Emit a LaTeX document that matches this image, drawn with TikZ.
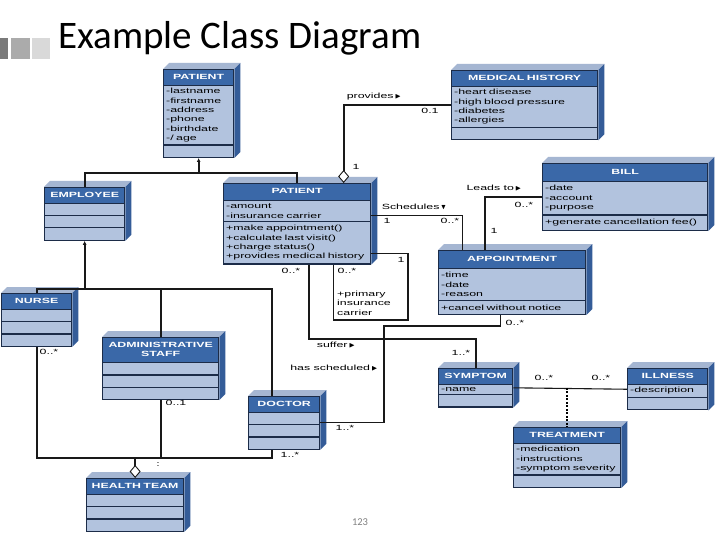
\documentclass[tikz,border=0pt]{standalone}
\usepackage{fontspec}
\usepackage{amssymb}
\usetikzlibrary{shapes.multipart,arrows.meta,backgrounds,positioning}
\newfontfamily\umlfont[FakeStretch=1.65]{Liberation Sans}
\newfontfamily\titlefont{Carlito}
\definecolor{hdrblue}{RGB}{58,104,168}
\definecolor{bodyblue}{RGB}{178,195,222}
\definecolor{edgeblue}{RGB}{28,44,72}
\definecolor{sideblue}{RGB}{52,92,152}
\definecolor{topblue}{RGB}{165,182,210}
\newcommand\classhead[1]{\centering\leavevmode\color{white}\bfseries\strut#1\strut\par}
\newcommand\nocomp{\rule{0pt}{6pt}}
\newcommand\rtri{\,{\scriptsize$\blacktriangleright$}}
\newcommand\dtri{\,{\scriptsize$\blacktriangledown$}}

\begin{document}
\begin{tikzpicture}[
  x=1pt, y=-1pt,
  classbox/.style={rectangle split, rectangle split parts=#1, draw=edgeblue,
    line width=1.3pt, rectangle split part fill={hdrblue,bodyblue},
    anchor=north west, inner xsep=2.5pt, inner ysep=2.5pt, align=left,
    font=\umlfont\fontsize{7.5}{9.3}\selectfont},
  classbox/.default=3,
  assoc/.style={draw=black!90, line width=1.7pt},
  thinassoc/.style={draw=black!90, line width=1.1pt},
  genarrow/.style={assoc, -{Latex[length=4pt,width=4pt]}},
  aggr/.style={assoc, -{Diamond[fill=white,length=13pt,width=11pt,line width=0.9pt]}},
  mult/.style={font=\umlfont\fontsize{7.5}{9.3}\selectfont, inner sep=1pt}
]
  \begin{scope}[on background layer]
    \fill[white] (0,0) rectangle (720,540);
  \end{scope}
  \useasboundingbox (0,0) rectangle (720,540);

  % title and slide marks
  \fill[black!52] (0,38) rectangle (8,59);
  \fill[black!33] (11,38) rectangle (30,59);
  \fill[black!15] (32,38) rectangle (50,59);
  \node[anchor=base west, inner sep=0pt, font=\titlefont\fontsize{39}{44}\selectfont]
    (title) at (58,49) {Example Class Diagram};

  % classes
  \node[classbox, text width=65pt] (patient) at (163,69)
    {\classhead{PATIENT}\nodepart{two}-lastname\\-firstname\\-address\\-phone\\-birthdate\\-/ age\nodepart{three}\nocomp};
  \node[classbox, text width=141pt] (medhist) at (451,70)
    {\classhead{MEDICAL HISTORY}\nodepart{two}-heart disease\\-high blood pressure\\-diabetes\\-allergies\nodepart{three}\nocomp};
  \node[classbox=4, text width=75pt] (employee) at (44,187)
    {\classhead{EMPLOYEE}\nodepart{two}\nocomp\nodepart{three}\nocomp\nodepart{four}\nocomp};
  \node[classbox, text width=142pt, inner ysep=3pt] (patient2) at (223,183)
    {\classhead{PATIENT}\nodepart{two}-amount\\-insurance carrier\nodepart{three}+make appointment()\\+calculate last visit()\\+charge status()\\+provides medical history};
  \node[classbox, text width=160pt, inner ysep=3.5pt] (bill) at (542,163)
    {\classhead{BILL}\nodepart{two}-date\\-account\\-purpose\nodepart{three}+generate cancellation fee()};
  \node[classbox, text width=142pt, inner ysep=3.5pt] (appt) at (438,250)
    {\classhead{APPOINTMENT}\nodepart{two}-time\\-date\\-reason\nodepart{three}+cancel without notice};
  \node[classbox=4, text width=65pt] (nurse) at (1,293)
    {\classhead{NURSE}\nodepart{two}\nocomp\nodepart{three}\nocomp\nodepart{four}\nocomp};
  \node[classbox=4, text width=111pt] (admin) at (102,337)
    {\classhead{ADMINISTRATIVE\\STAFF}\nodepart{two}\nocomp\nodepart{three}\nocomp\nodepart{four}\nocomp};
  \node[classbox=4, text width=66pt] (doctor) at (248,396)
    {\classhead{DOCTOR}\nodepart{two}\nocomp\nodepart{three}\nocomp\nodepart{four}\nocomp};
  \node[classbox, text width=69pt] (symptom) at (438,368)
    {\classhead{SYMPTOM}\nodepart{two}-name\nodepart{three}\nocomp};
  \node[classbox, text width=75pt] (illness) at (627,368)
    {\classhead{ILLNESS}\nodepart{two}-description\nodepart{three}\nocomp};
  \node[classbox, text width=102pt] (treatment) at (513,427)
    {\classhead{TREATMENT}\nodepart{two}-medication\\-instructions\\-symptom severity\nodepart{three}\nocomp};
  \node[classbox=4, text width=92pt] (team) at (86,478)
    {\classhead{HEALTH TEAM}\nodepart{two}\nocomp\nodepart{three}\nocomp\nodepart{four}\nocomp};

  % 3d faces
  \begin{scope}[on background layer]
    \foreach \c in {patient,medhist,employee,patient2,bill,appt,nurse,admin,doctor,symptom,illness,treatment,team}{
      \fill[topblue] (\c.north west) -- ([shift={(6pt,6pt)}]\c.north west)
        -- ([shift={(6pt,6pt)}]\c.north east) -- (\c.north east) -- cycle;
      \fill[sideblue] (\c.north east) -- ([shift={(6pt,6pt)}]\c.north east)
        -- ([shift={(6pt,6pt)}]\c.south east) -- (\c.south east) -- cycle;
    }
  \end{scope}

  % generalisation
  \coordinate (genjoin) at ([yshift=-15pt]patient.south);
  \draw[assoc] (employee.north) |- (genjoin) -| (patient2.north);
  \draw[genarrow] (genjoin) -- (patient.south);
  \coordinate (genjoin2) at ([yshift=-48pt]employee.south);
  \draw[assoc] (nurse.north) |- (genjoin2) -| ([xshift=-12.5pt]doctor.north);
  \draw[assoc] (admin.north) -- (admin.north |- genjoin2);
  \draw[genarrow] (genjoin2) -- (employee.south);

  % health team
  \coordinate (teamjoin) at ([yshift=20pt]team.north);
  \draw[assoc] (nurse.south) |- (teamjoin) -| ([xshift=-12.5pt]doctor.south);
  \draw[assoc] (admin.south) -- (admin.south |- teamjoin);
  \draw[aggr] (teamjoin) -- (team.north);
  \node[mult] (nursem) at (49,352) {0..*};
  \node[mult] (adminm) at (176,403) {0..1};
  \node[mult] (doctorm) at (290,455) {1..*};
  \node[mult] (teamm) at (158,465) {:};

  % associations
  \draw[aggr] (medhist.west) -| ([xshift=46.5pt]patient2.north);
  \node[mult] (provl) at (374,97) {provides\rtri};
  \node[mult] (provm1) at (430,111) {0.1};
  \node[mult] (provm2) at (356,167) {1};

  \draw[thinassoc] ([yshift=8pt]patient2.east) -| ([xshift=-49.5pt]appt.north);
  \node[mult] (schedl) at (414,207) {Schedules\dtri};
  \node[mult] (schedm1) at (387,221) {1};
  \node[mult] (schedm2) at (450,221) {0..*};

  \draw[assoc] (bill.west) -| ([xshift=-27pt]appt.north);
  \node[mult] (leadl) at (494,188) {Leads to\rtri};
  \node[mult] (leadm1) at (524,205) {0..*};
  \node[mult] (leadm2) at (494,231) {1};

  \coordinate (selfcorner) at (408,320);
  \draw[thinassoc] ([yshift=-30pt]patient2.east) -| (selfcorner) -| ([xshift=36.5pt]patient2.south);
  \node[mult] (selfm1) at (401,260) {1};
  \node[mult] (selfm2) at (347,271) {0..*};
  \node[mult, anchor=north west, align=left] (selfl) at (336,290) {+primary\\insurance\\carrier};

  \draw[assoc] ([xshift=12pt]patient2.south) |- ([yshift=29pt]symptom.north) -- (symptom.north);
  \node[mult] (sufm1) at (291,271) {0..*};
  \node[mult] (sufl) at (336,345) {suffer\rtri};
  \node[mult] (sufm2) at (461,353) {1..*};

  \coordinate (schedbend) at (384,326);
  \draw[thinassoc] (doctor.east) -| (schedbend) -| ([xshift=-11.5pt]appt.south);
  \node[mult] (hasl) at (334,368) {has scheduled\rtri};
  \node[mult] (hasm1) at (515,323) {0..*};
  \node[mult] (hasm2) at (345,428) {1..*};

  \draw[thinassoc] (symptom.east) -- (illness.west);
  \node[mult] (illm1) at (544,378) {0..*};
  \node[mult] (illm2) at (601,378) {0..*};
  \draw[line width=1.6pt, dash pattern=on 2pt off 1.5pt] (treatment.north |- symptom.east) -- (treatment.north);

  \node[font=\titlefont\fontsize{10.5}{12}\selectfont, text=black!50] (pagenum) at (360,522) {123};
\end{tikzpicture}
\end{document}
